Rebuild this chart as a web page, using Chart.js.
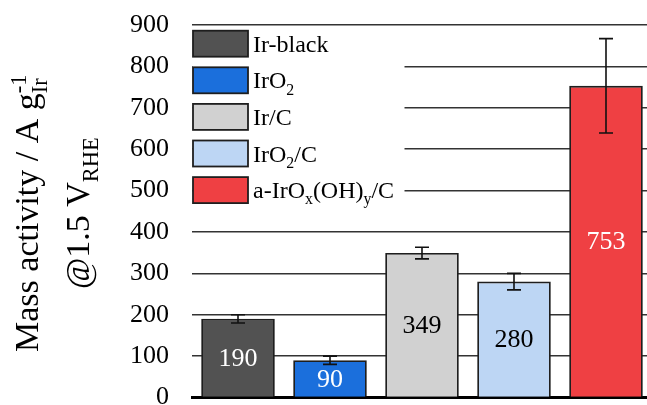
<!DOCTYPE html>
<html>
<head>
<meta charset="utf-8">
<script src="https://cdn.jsdelivr.net/npm/chart.js@4/dist/chart.umd.min.js"></script>
<style>
  html, body { margin: 0; padding: 0; background: #fff; overflow: hidden; }
  #wrap { width: 647px; height: 405px; overflow: hidden; position: relative; }
  canvas { display: block; }
</style>
</head>
<body>
<div id="wrap"><canvas id="c" width="652" height="413"></canvas></div>
<script>
// Catalysts; "_{..}" marks a subscript, "^{..}" a superscript
const categories = ['Ir-black', 'IrO_{2}', 'Ir/C', 'IrO_{2}/C', 'a-IrO_{x}(OH)_{y}/C'];
// Mass activity at 1.5 V vs RHE, A per g Ir
const massActivity = [190, 90, 349, 280, 753];
// Standard deviation of each value
const errors = [10, 10, 14, 20, 114];
// Y axis range and step
const yMin = 0;
const yMax = 900;
const yStep = 100;
// Axis title lines
const yTitleLines = ['Mass activity / A g_{Ir}^{-1}', '@1.5 V_{RHE}'];

const barColors = ['#525252', '#1b6fdc', '#d1d1d1', '#bdd6f4', '#ef4043'];
const labelColors = ['#ffffff', '#ffffff', '#000000', '#000000', '#ffffff'];
const SERIF = '"Liberation Serif", "Times New Roman", serif';

// Split a marked-up string into plain / sub / sup runs
function parseRich(str) {
  const out = [];
  const re = /([_^])\{([^}]*)\}/g;
  let last = 0, m;
  while ((m = re.exec(str))) {
    if (m.index > last) out.push({ text: str.slice(last, m.index), mode: 'n' });
    out.push({ text: m[2], mode: m[1] === '_' ? 'sub' : 'sup' });
    last = re.lastIndex;
  }
  if (last < str.length) out.push({ text: str.slice(last), mode: 'n' });
  return out;
}

// Lay out runs; a sub directly followed by a sup (or the reverse) share one x
function layoutRich(ctx, runs, size) {
  const small = size * 0.66;
  let x = 0, prev = null;
  const placed = [];
  for (const r of runs) {
    const fs = r.mode === 'n' ? size : small;
    ctx.font = fs + 'px ' + SERIF;
    const w = ctx.measureText(r.text).width;
    let start = x;
    if (prev && prev.mode !== 'n' && r.mode !== 'n' && prev.mode !== r.mode) {
      start = prev.x;
      x = Math.max(prev.x + prev.w, start + w);
    } else {
      x = start + w;
    }
    const dy = r.mode === 'sub' ? size * 0.26 : r.mode === 'sup' ? -size * 0.36 : 0;
    const item = { text: r.text, mode: r.mode, fs, x: start, w, dy };
    placed.push(item);
    prev = item;
  }
  return { placed, width: x };
}

function drawRich(ctx, str, x, y, size, color, align) {
  const lay = layoutRich(ctx, parseRich(str), size);
  let x0 = x;
  if (align === 'center') x0 = x - lay.width / 2;
  ctx.fillStyle = color;
  ctx.textBaseline = 'alphabetic';
  ctx.textAlign = 'left';
  for (const p of lay.placed) {
    ctx.font = p.fs + 'px ' + SERIF;
    ctx.fillText(p.text, x0 + p.x, y + p.dy);
  }
}

// Error bars, value labels and legend
const overlayPlugin = {
  id: 'overlay',
  afterDatasetsDraw(chart) {
    const ctx = chart.ctx;
    const meta = chart.getDatasetMeta(0);
    const ys = chart.scales.y;
    ctx.save();

    // value labels centred inside each bar
    meta.data.forEach((bar, i) => {
      const v = massActivity[i];
      const yc = (ys.getPixelForValue(v) + ys.getPixelForValue(0)) / 2;
      ctx.font = '26px ' + SERIF;
      ctx.fillStyle = labelColors[i];
      ctx.textAlign = 'center';
      ctx.textBaseline = 'middle';
      ctx.fillText(String(v), bar.x, yc + 1);
    });

    // error bars
    ctx.strokeStyle = '#111';
    ctx.lineWidth = 1.6;
    meta.data.forEach((bar, i) => {
      const v = massActivity[i], e = errors[i];
      const yt = ys.getPixelForValue(v + e);
      const yb = ys.getPixelForValue(v - e);
      const cap = 7;
      ctx.beginPath();
      ctx.moveTo(bar.x, yt); ctx.lineTo(bar.x, yb);
      ctx.moveTo(bar.x - cap, yt); ctx.lineTo(bar.x + cap, yt);
      ctx.moveTo(bar.x - cap, yb); ctx.lineTo(bar.x + cap, yb);
      ctx.stroke();
    });

    // legend
    const left = chart.chartArea.left;
    ctx.fillStyle = '#ffffff';
    ctx.fillRect(left + 0.5, 27, 212, 201);
    const rowStep = 36.6;
    categories.forEach((name, i) => {
      const cy = 43.7 + i * rowStep;
      ctx.fillStyle = barColors[i];
      ctx.fillRect(left + 1, cy - 13, 55, 26);
      ctx.strokeStyle = '#1e1e1e';
      ctx.lineWidth = 1.8;
      ctx.strokeRect(left + 1, cy - 13, 55, 26);
      drawRich(ctx, name, left + 61, cy + 8, 24, '#000', 'left');
    });
    ctx.restore();
  },
  afterDraw(chart) {
    // rotated two-line axis title
    const ctx = chart.ctx;
    const area = chart.chartArea;
    const yc = (area.top + area.bottom) / 2 + 2;
    const baselines = [38, 89];
    ctx.save();
    yTitleLines.forEach((line, i) => {
      ctx.save();
      ctx.translate(baselines[i], yc);
      ctx.rotate(-Math.PI / 2);
      drawRich(ctx, line, 0, 0, 34, '#000', 'center');
      ctx.restore();
    });
    ctx.restore();
  }
};

new Chart(document.getElementById('c'), {
  type: 'bar',
  data: {
    labels: categories,
    datasets: [{
      data: massActivity,
      backgroundColor: barColors,
      borderColor: '#1e1e1e',
      borderWidth: 1.8,
      barPercentage: 0.8,
      categoryPercentage: 1
    }]
  },
  options: {
    responsive: false,
    animation: false,
    devicePixelRatio: 1,
    layout: { padding: { top: 25, right: 0, bottom: 15.5, left: 0 } },
    plugins: { legend: { display: false }, tooltip: { enabled: false }, title: { display: false } },
    scales: {
      x: {
        grid: { display: false },
        ticks: { display: false },
        border: { display: true, color: '#000', width: 3 },
        afterFit(scale) { scale.height = 0; scale.paddingLeft = 0; scale.paddingRight = 0; }
      },
      y: {
        min: yMin,
        max: yMax,
        ticks: { stepSize: yStep, padding: 23, color: '#000', font: { family: SERIF, size: 26 } },
        grid: { color: '#333333', lineWidth: 1.4, drawTicks: false },
        border: { display: false },
        afterFit(scale) { scale.width = 192; scale.paddingTop = 0; scale.paddingBottom = 0; }
      }
    }
  },
  plugins: [overlayPlugin]
});
</script>
</body>
</html>
